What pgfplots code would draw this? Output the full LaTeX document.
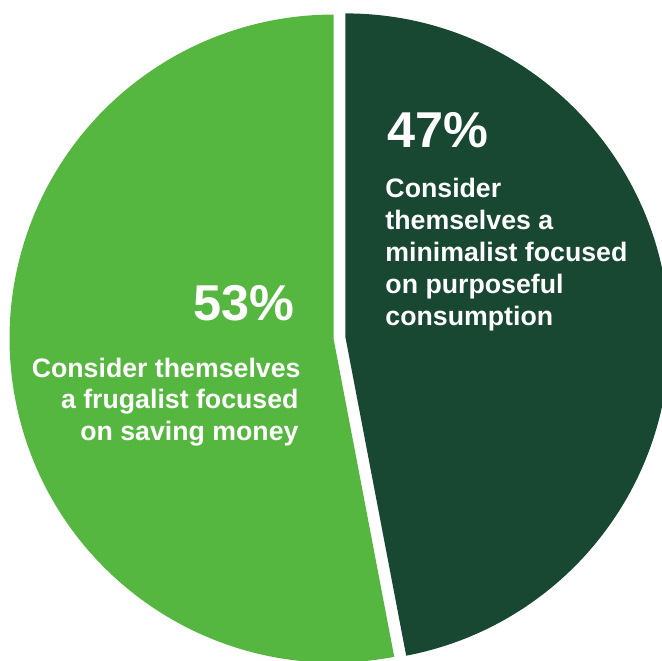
\documentclass[border=0pt]{standalone}
\usepackage{pgfplots}
\pgfplotsset{compat=1.18}
\usepackage{pgfplotstable}
\usepackage{fontspec}
\setmainfont{Liberation Sans}
\definecolor{darkgreen}{RGB}{24,71,50}
\definecolor{lightgreen}{RGB}{85,183,63}
\pgfplotstableread{
slice value
minimalist 47
frugalist 53
}\pietable
\begin{document}
\begin{tikzpicture}
\pgfplotstablegetelem{0}{value}\of\pietable \let\valA\pgfplotsretval
\pgfplotstablegetelem{1}{value}\of\pietable \let\valB\pgfplotsretval
\pgfmathsetmacro\angA{90-3.6*\valA}
\pgfmathsetmacro\angB{\angA-3.6*\valB}
\pgfmathsetmacro\midA{(90+\angA)/2}
\pgfmathsetmacro\midB{(\angA+\angB)/2}
\pgfmathsetmacro\cxA{339.5+6*cos(\midA)}
\pgfmathsetmacro\cyA{323+6*sin(\midA)}
\pgfmathsetmacro\cxB{339.5+6*cos(\midB)}
\pgfmathsetmacro\cyB{323+6*sin(\midB)}
\begin{axis}[x=0.015cm,y=0.015cm,xmin=0,xmax=662,ymin=0,ymax=661,
  hide axis,clip=true,scale only axis]
\fill[darkgreen] (axis cs:\cxA,\cyA) -- ++(90:4.86cm) arc[start angle=90,end angle=\angA,radius=4.86cm] -- cycle;
\fill[lightgreen] (axis cs:\cxB,\cyB) -- ++(\angA:4.86cm) arc[start angle=\angA,end angle=\angB,radius=4.86cm] -- cycle;
\begin{scope}[every node/.style={inner sep=0pt,text=white}]
\node[anchor=base east,font=\fontsize{21.5}{25}\selectfont\bfseries] at (axis cs:295,340) {53\%};
\node[anchor=base east,font=\fontsize{11.4}{13.6}\selectfont\bfseries] at (axis cs:301,283) {Consider themselves};
\node[anchor=base east,font=\fontsize{11.4}{13.6}\selectfont\bfseries] at (axis cs:299,252) {a frugalist focused};
\node[anchor=base east,font=\fontsize{11.4}{13.6}\selectfont\bfseries] at (axis cs:299,220) {on saving money};
\node[anchor=base west,font=\fontsize{21.5}{25}\selectfont\bfseries] at (axis cs:387,513) {47\%};
\node[anchor=base west,font=\fontsize{11.4}{13.6}\selectfont\bfseries] at (axis cs:385,463) {Consider};
\node[anchor=base west,font=\fontsize{11.4}{13.6}\selectfont\bfseries] at (axis cs:385,431) {themselves a};
\node[anchor=base west,font=\fontsize{11.4}{13.6}\selectfont\bfseries] at (axis cs:385,399) {minimalist focused};
\node[anchor=base west,font=\fontsize{11.4}{13.6}\selectfont\bfseries] at (axis cs:385,367) {on purposeful};
\node[anchor=base west,font=\fontsize{11.4}{13.6}\selectfont\bfseries] at (axis cs:385,335) {consumption};
\end{scope}
\end{axis}
\pgfresetboundingbox
\path (current axis.south west) rectangle (current axis.north east);
\end{tikzpicture}
\end{document}
